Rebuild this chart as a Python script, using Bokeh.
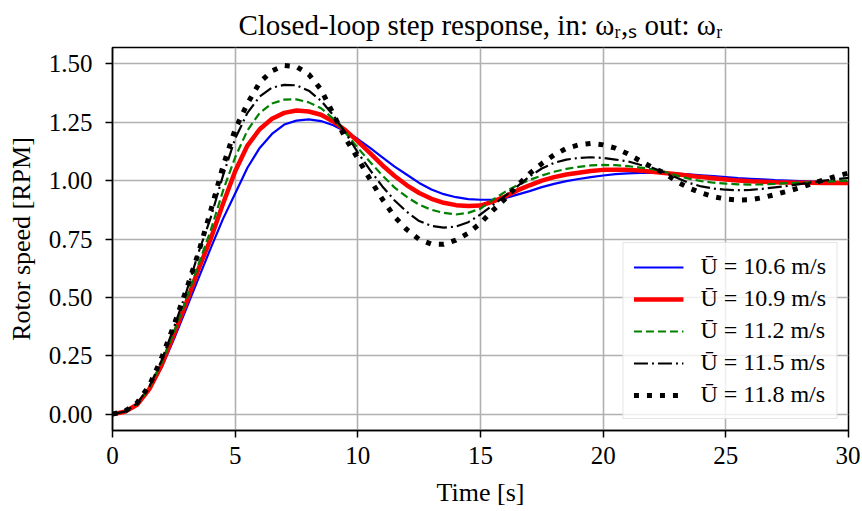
from bokeh.plotting import figure
from bokeh.models import Legend, LegendItem, FixedTicker, Range1d, NumeralTickFormatter
from bokeh.embed import file_html
from bokeh.resources import INLINE

# ---- data ----
time_s = [0, 0.5, 1, 1.5, 2, 2.5, 3, 3.5, 4, 4.5, 5, 5.5, 6, 6.5, 7, 7.5, 8, 8.5, 9, 9.5,
          10, 10.5, 11, 11.5, 12, 12.5, 13, 13.5, 14, 14.5, 15, 15.5, 16, 16.5, 17, 17.5,
          18, 18.5, 19, 19.5, 20, 20.5, 21, 21.5, 22, 22.5, 23, 23.5, 24, 24.5, 25, 25.5,
          26, 26.5, 27, 27.5, 28, 28.5, 29, 29.5, 30]

speed_u106 = [0, 0.01, 0.04, 0.105, 0.20, 0.32, 0.45, 0.58, 0.71, 0.835, 0.945, 1.055, 1.14,
              1.20, 1.24, 1.257, 1.262, 1.255, 1.237, 1.21, 1.178, 1.14, 1.10, 1.06, 1.025,
              0.99, 0.962, 0.942, 0.929, 0.921, 0.918, 0.919, 0.925, 0.94, 0.955, 0.972,
              0.986, 0.998, 1.007, 1.015, 1.022, 1.028, 1.031, 1.033, 1.034, 1.033, 1.03,
              1.027, 1.023, 1.019, 1.015, 1.011, 1.008, 1.005, 1.002, 1.0, 0.998, 0.996,
              0.994, 0.992, 0.991]

speed_u109 = [0, 0.01, 0.04, 0.107, 0.21, 0.34, 0.475, 0.62, 0.75, 0.90, 1.04, 1.15, 1.22,
              1.265, 1.29, 1.30, 1.296, 1.282, 1.253, 1.215, 1.168, 1.118, 1.066, 1.02, 0.98,
              0.947, 0.922, 0.905, 0.895, 0.891, 0.893, 0.91, 0.932, 0.958, 0.98, 1.0, 1.015,
              1.026, 1.034, 1.041, 1.046, 1.047, 1.046, 1.043, 1.038, 1.033, 1.027, 1.021,
              1.015, 1.01, 1.005, 1.0, 0.997, 0.995, 0.993, 0.992, 0.991, 0.991, 0.99, 0.99,
              0.99]

speed_u112 = [0, 0.01, 0.042, 0.112, 0.22, 0.35, 0.49, 0.64, 0.786, 0.955, 1.10, 1.215, 1.29,
              1.33, 1.347, 1.348, 1.335, 1.31, 1.265, 1.205, 1.14, 1.08, 1.022, 0.97, 0.93,
              0.897, 0.875, 0.862, 0.855, 0.862, 0.88, 0.918, 0.952, 0.98, 1.003, 1.022,
              1.038, 1.05, 1.059, 1.065, 1.067, 1.066, 1.062, 1.056, 1.049, 1.038, 1.022,
              1.008, 0.998, 0.991, 0.987, 0.984, 0.983, 0.984, 0.986, 0.989, 0.991, 0.993,
              0.995, 0.998, 1.0]

speed_u115 = [0, 0.011, 0.045, 0.118, 0.23, 0.37, 0.52, 0.69, 0.84, 1.02, 1.18, 1.29, 1.36,
              1.398, 1.41, 1.408, 1.385, 1.342, 1.28, 1.205, 1.12, 1.045, 0.975, 0.915, 0.866,
              0.827, 0.806, 0.799, 0.803, 0.822, 0.855, 0.895, 0.935, 0.975, 1.018, 1.052,
              1.076, 1.09, 1.097, 1.10, 1.097, 1.09, 1.083, 1.068, 1.055, 1.035, 1.012, 0.99,
              0.975, 0.966, 0.961, 0.959, 0.96, 0.965, 0.971, 0.977, 0.985, 0.993, 1.0,
              1.006, 1.012]

speed_u118 = [0, 0.012, 0.048, 0.122, 0.24, 0.38, 0.53, 0.69, 0.87, 1.06, 1.22, 1.33, 1.42,
              1.47, 1.493, 1.488, 1.455, 1.39, 1.285, 1.18, 1.095, 1.005, 0.92, 0.845, 0.79,
              0.748, 0.728, 0.727, 0.745, 0.775, 0.818, 0.872, 0.922, 0.978, 1.03, 1.073,
              1.11, 1.138, 1.153, 1.159, 1.153, 1.139, 1.115, 1.085, 1.057, 1.032, 0.996,
              0.968, 0.947, 0.931, 0.921, 0.917, 0.918, 0.927, 0.94, 0.954, 0.969, 0.987,
              1.003, 1.019, 1.032]

series_labels = ["Ū = 10.6 m/s", "Ū = 10.9 m/s", "Ū = 11.2 m/s", "Ū = 11.5 m/s", "Ū = 11.8 m/s"]
x_ticks = [0, 5, 10, 15, 20, 25, 30]
y_ticks = [0.0, 0.25, 0.5, 0.75, 1.0, 1.25, 1.5]

FONT = "Liberation Serif"

p = figure(width=860, height=510, output_backend="svg", toolbar_location=None,
           x_range=Range1d(0, 30), y_range=Range1d(-0.07, 1.57),
           min_border_left=112, min_border_right=12, min_border_top=46, min_border_bottom=80,
           title="Closed-loop step response, in: ωᵣ,ₛ out: ωᵣ")

p.title.align = "center"
p.title.text_font = FONT
p.title.text_font_size = "29px"
p.title.text_font_style = "normal"
p.title.text_color = "black"
p.title.standoff = 13

series = [speed_u106, speed_u109, speed_u112, speed_u115, speed_u118]
styles = [
    dict(line_color="blue", line_width=2.2, line_dash="solid"),
    dict(line_color="red", line_width=4.5, line_dash="solid"),
    dict(line_color="green", line_width=2.2, line_dash="8 4"),
    dict(line_color="black", line_width=2.2, line_dash="14 4 2 4"),
    dict(line_color="black", line_width=5, line_dash="5 8"),
]
items = []
for vals, st, lab in zip(series, styles, series_labels):
    r = p.line(time_s, vals, **st)
    items.append(LegendItem(label=lab, renderers=[r]))

legend = Legend(items=items, location="bottom_right", margin=11, padding=10, spacing=5,
                glyph_width=50, glyph_height=26, label_height=26, label_standoff=17,
                label_text_font=FONT, label_text_font_size="24px", label_text_color="black",
                border_line_color="#cccccc", border_line_width=1.5,
                background_fill_color="white", background_fill_alpha=0.8)
p.add_layout(legend)

p.xaxis.ticker = FixedTicker(ticks=x_ticks)
p.yaxis.ticker = FixedTicker(ticks=y_ticks)
p.yaxis.formatter = NumeralTickFormatter(format="0.00")
p.xaxis.axis_label = "Time [s]"
p.yaxis.axis_label = "Rotor speed [RPM]"

for ax in (p.xaxis[0], p.yaxis[0]):
    ax.major_label_text_font = FONT
    ax.major_label_text_font_size = "25px"
    ax.major_label_text_color = "black"
    ax.axis_label_text_font = FONT
    ax.axis_label_text_font_size = "26px"
    ax.axis_label_text_font_style = "normal"
    ax.axis_label_text_color = "black"
    ax.axis_line_color = "black"
    ax.axis_line_width = 1.5
    ax.major_tick_line_color = "black"
    ax.major_tick_line_width = 1.5
    ax.major_tick_out = 7
    ax.major_tick_in = 0
    ax.minor_tick_line_color = None
p.xaxis.major_label_standoff = 9
p.yaxis.major_label_standoff = 13
p.xaxis.axis_label_standoff = 11
p.yaxis.axis_label_standoff = 10

p.grid.grid_line_color = "#b0b0b0"
p.grid.grid_line_width = 1.6
p.outline_line_color = "black"
p.outline_line_width = 1.5
p.outline_line_alpha = 1.0
p.background_fill_color = "white"
p.border_fill_color = "white"

open("out.html", "w").write(file_html(p, INLINE))
